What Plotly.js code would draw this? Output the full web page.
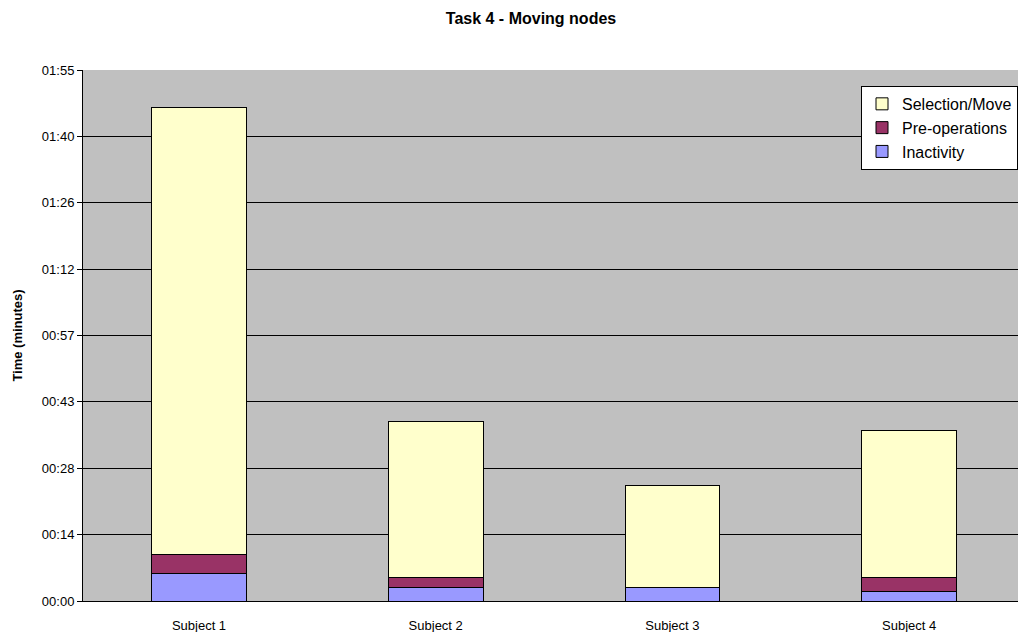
<!DOCTYPE html>
<html>
<head>
<meta charset="utf-8">
<script src="https://cdn.plot.ly/plotly-3.0.1.min.js"></script>
<style>html,body{margin:0;padding:0;overflow:hidden;background:#fff}#chart{width:1018px;height:632px}</style>
</head>
<body>
<div id="chart"></div>
<script>
// Values in seconds
var subjects = ["Subject 1", "Subject 2", "Subject 3", "Subject 4"];
var inactivity = [6, 3, 3, 2];
var preOperations = [4, 2, 0, 3];
var selectionMove = [97, 34, 22, 32];
var tickSeconds = [0, 14.4, 28.8, 43.2, 57.6, 72, 86.4, 100.8, 115.2];
var tickLabels = ["00:00", "00:14", "00:28", "00:43", "00:57", "01:12", "01:26", "01:40", "01:55"];

var line = {color: "#000000", width: 1};
var traces = [
  {type: "bar", name: "Inactivity", x: subjects, y: inactivity, marker: {color: "#9999FF", line: line}, width: 0.4},
  {type: "bar", name: "Pre-operations", x: subjects, y: preOperations, marker: {color: "#993366", line: line}, width: 0.4},
  {type: "bar", name: "Selection/Move", x: subjects, y: selectionMove, marker: {color: "#FFFFCC", line: line}, width: 0.4}
];

var layout = {
  width: 1018, height: 632,
  barmode: "stack",
  paper_bgcolor: "#FFFFFF",
  plot_bgcolor: "#C0C0C0",
  font: {family: "Liberation Sans, Arial, sans-serif", color: "#000000", size: 13},
  margin: {l: 83, r: 0, t: 70, b: 31, autoexpand: false},
  title: {text: "<b>Task 4 - Moving nodes</b>", font: {size: 16}, x: 531 / 1018, xanchor: "center", xref: "container", y: 0.971, yanchor: "middle"},
  xaxis: {
    range: [-0.49, 3.46],
    showgrid: false,
    showline: true, linecolor: "#000000", linewidth: 1,
    ticks: "", tickfont: {size: 13}, ticklabelstandoff: 12
  },
  yaxis: {
    range: [0, 115.2],
    tickvals: tickSeconds, ticktext: tickLabels,
    showgrid: true, gridcolor: "#000000", gridwidth: 1,
    showline: true, linecolor: "#000000", linewidth: 1,
    ticks: "outside", ticklen: 5, tickcolor: "#000000",
    tickfont: {size: 13},
    zeroline: false,
    title: {text: "<b>Time (minutes)</b>", font: {size: 13}, standoff: 16}
  },
  legend: {
    x: (861 - 83) / 935, y: 0.97, xanchor: "left", yanchor: "top",
    bgcolor: "#FFFFFF", bordercolor: "#000000", borderwidth: 1,
    traceorder: "reversed",
    font: {size: 16},
    itemwidth: 30, tracegroupgap: 0
  },
  showlegend: true
};

Plotly.newPlot("chart", traces, layout, {displayModeBar: false, staticPlot: true});
</script>
</body>
</html>
